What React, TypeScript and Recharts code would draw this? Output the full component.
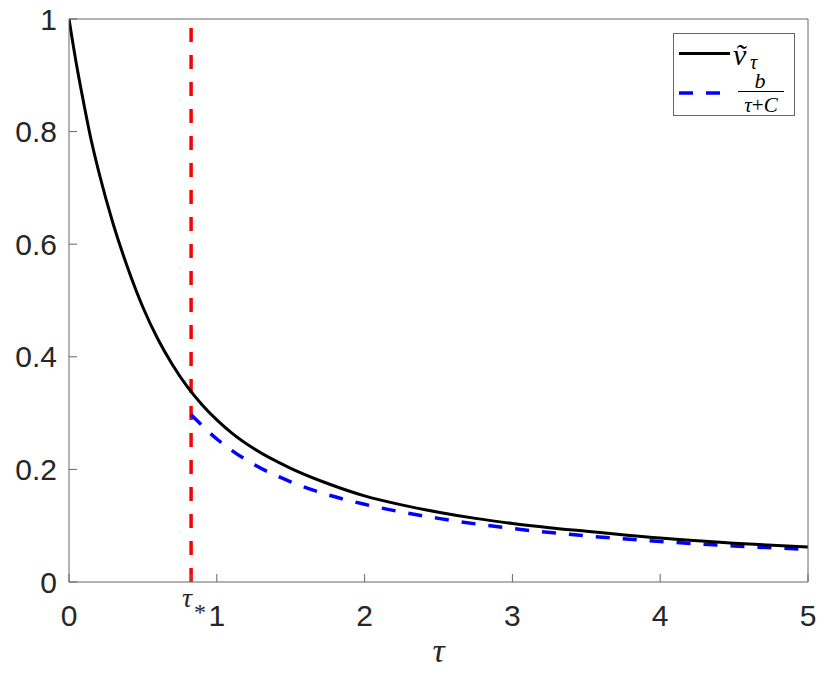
import { LineChart, Line, XAxis, YAxis, ReferenceLine, Legend, Label } from 'recharts'

// tau where the approximation starts
const TAU_STAR = 0.826

// v~_tau (solid black)
const tauBlack = [0, 0.05, 0.1, 0.15, 0.2, 0.3, 0.4, 0.5, 0.6, 0.7, 0.8, 0.9, 1.0, 1.1, 1.25, 1.5, 1.75, 2.0, 2.25, 2.5, 2.75, 3.0, 3.5, 4.0, 4.5, 5.0]
const vBlack = [1.0, 0.92, 0.85, 0.785, 0.73, 0.635, 0.556, 0.488, 0.432, 0.386, 0.347, 0.315, 0.288, 0.265, 0.237, 0.202, 0.175, 0.153, 0.137, 0.124, 0.113, 0.104, 0.09, 0.078, 0.069, 0.062]

// b/(tau+C) (dashed blue)
const tauBlue = [0.826, 0.9, 1.0, 1.1, 1.25, 1.5, 1.75, 2.0, 2.5, 3.0, 3.5, 4.0, 4.5, 5.0]
const vBlue = [0.297, 0.278, 0.254, 0.234, 0.209, 0.178, 0.155, 0.138, 0.113, 0.095, 0.082, 0.072, 0.064, 0.058]

const xTicks = [0, TAU_STAR, 1, 2, 3, 4, 5]
const yTicks = [0, 0.2, 0.4, 0.6, 0.8, 1]

const blackData = tauBlack.map((t, i) => ({ t, v: vBlack[i] }))
const blueData = tauBlue.map((t, i) => ({ t, v: vBlue[i] }))

const AXIS = '#666'
const TXT = '#262626'
const SANS = 'Liberation Sans, Arial, Helvetica, sans-serif'
const SERIF = 'Liberation Serif, DejaVu Serif, Times New Roman, serif'

function XTick(props: any) {
  const { x, y, payload } = props
  if (payload.value === TAU_STAR) {
    return (
      <g>
        <text x={x - 4} y={y + 25} textAnchor="middle" fontSize={28} fontStyle="italic" fontFamily={SERIF} fill={TXT}>τ</text>
        <text x={x + 9} y={y + 38} textAnchor="middle" fontSize={24} fontFamily={SERIF} fill={TXT}>*</text>
      </g>
    )
  }
  return (
    <text x={x} y={y + 44} textAnchor="middle" fontSize={30} fontFamily={SANS} fill={TXT}>
      {String(payload.value)}
    </text>
  )
}

function LegendBox() {
  return (
    <svg width={122} height={83} style={{ display: 'block' }}>
      <rect x={0.5} y={0.5} width={121} height={82} fill="#fff" stroke={AXIS} strokeWidth={1} />
      <line x1={6} x2={57} y1={20.5} y2={20.5} stroke="#000" strokeWidth={3} />
      <text x={60} y={32} fontSize={30} fontStyle="italic" fontFamily={SERIF} fill="#000">ṽ</text>
      <text x={77} y={36} fontSize={20} fontStyle="italic" fontFamily={SERIF} fill="#000">τ</text>
      <line x1={6} x2={47} y1={60} y2={60} stroke="#0000ff" strokeWidth={3.5} strokeDasharray="14 13" />
      <text x={87} y={55} textAnchor="middle" fontSize={22} fontStyle="italic" fontFamily={SERIF} fill="#000">b</text>
      <line x1={65} x2={111} y1={58.5} y2={58.5} stroke="#000" strokeWidth={1} />
      <text x={88} y={79} textAnchor="middle" fontSize={21} fontFamily={SERIF} fill="#000">
        <tspan fontStyle="italic">τ</tspan>+<tspan fontStyle="italic">C</tspan>
      </text>
    </svg>
  )
}

export default function App() {
  return (
    <div style={{ position: 'absolute', left: 0, top: 0, width: 830, height: 678, background: '#fff' }}>
      <LineChart width={830} height={678} margin={{ top: 18, right: 21, bottom: 0, left: 0 }}>
        <XAxis
          dataKey="t"
          type="number"
          domain={[0, 5]}
          ticks={xTicks}
          interval={0}
          height={96}
          tickSize={-8}
          tickMargin={8}
          stroke={AXIS}
          tick={<XTick />}
          allowDataOverflow
        >
          <Label value="τ" position="insideBottom" offset={16} style={{ fontSize: 34, fontStyle: 'italic', fontFamily: SERIF, fill: TXT }} />
        </XAxis>
        <XAxis
          xAxisId="top"
          orientation="top"
          type="number"
          dataKey="t"
          domain={[0, 5]}
          ticks={xTicks}
          interval={0}
          height={1}
          tickSize={-8}
          tick={false}
          stroke={AXIS}
          allowDataOverflow
        />
        <YAxis
          type="number"
          domain={[0, 1]}
          ticks={yTicks}
          interval={0}
          width={69}
          tickSize={-8}
          tickMargin={20}
          stroke={AXIS}
          tick={{ fontSize: 30, fontFamily: SANS, fill: TXT }}
          tickFormatter={(v: number) => (v === 0 || v === 1 ? String(v) : v.toFixed(1))}
        />
        <YAxis
          yAxisId="right"
          orientation="right"
          type="number"
          domain={[0, 1]}
          ticks={yTicks}
          interval={0}
          width={1}
          tickSize={-8}
          tick={false}
          stroke={AXIS}
          allowDataOverflow
        />
        <ReferenceLine x={TAU_STAR} stroke="#ff0000" strokeWidth={3.5} strokeDasharray="14 13" />
        <Line data={blueData} dataKey="v" type="monotone" stroke="#0000ff" strokeWidth={3.5} strokeDasharray="14 13" dot={false} isAnimationActive={false} />
        <Line data={blackData} dataKey="v" type="monotone" stroke="#000" strokeWidth={3} dot={false} isAnimationActive={false} />
        {/* invisible series bound to the top/right axes so they get drawn */}
        <Line data={blackData} dataKey="v" xAxisId="top" yAxisId="right" stroke="none" dot={false} legendType="none" isAnimationActive={false} />
        <Legend
          layout="vertical"
          align="center"
          verticalAlign="middle"
          content={() => <LegendBox />}
          wrapperStyle={{ position: 'absolute', left: 673, top: 33, width: 122, height: 83 }}
        />
      </LineChart>
    </div>
  )
}
